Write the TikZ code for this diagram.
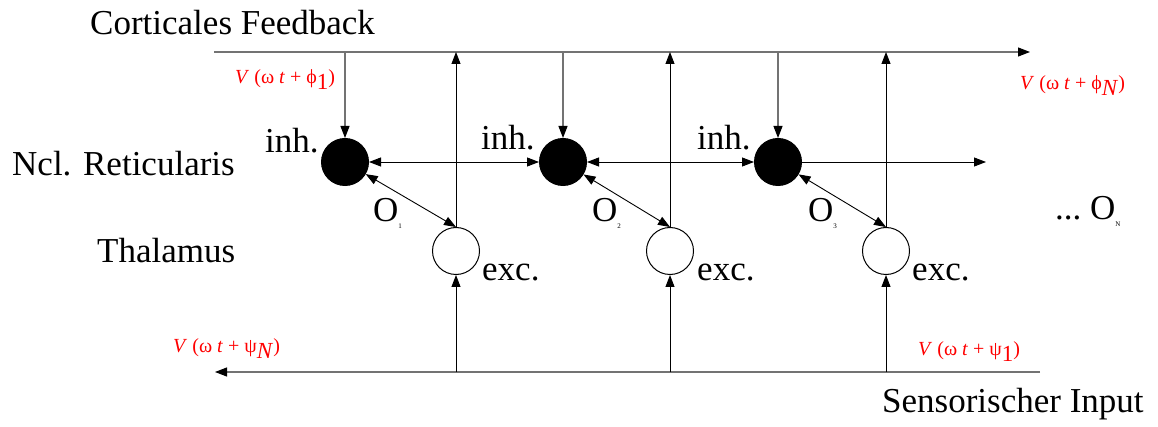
\documentclass[tikz,border=0pt]{standalone}
\usepackage{fontspec}
\setmainfont{Liberation Serif}
\usetikzlibrary{arrows.meta}
\begin{document}
\begin{tikzpicture}[x=1pt,y=-1pt,
  big/.style={inner sep=0pt,anchor=base west,font=\fontsize{35}{40}\selectfont},
  phase/.style={inner sep=0pt,anchor=base west,text=red,font=\fontsize{20}{24}\selectfont},
  inhcell/.style={circle,fill=black,draw=black,line width=1pt,minimum size=47pt,inner sep=0pt},
  exccell/.style={circle,fill=white,draw=black,line width=1pt,minimum size=47pt,inner sep=0pt},
  wire/.style={line width=1.1pt,draw=black!55},
  link/.style={line width=0.9pt,draw=black},
  tip/.style={-{Triangle[length=12pt,width=9pt,color=black]}},
  tips/.style={{Triangle[length=12pt,width=9pt,color=black]}-{Triangle[length=12pt,width=9pt,color=black]}}
]
\useasboundingbox (0,0) rectangle (1158,427);

% ends of the feedback and input lines
\coordinate (fbL) at (214,52);
\coordinate (fbR) at (1030,52);
\coordinate (inR) at (1040,372);
\coordinate (inL) at (215,372);
\coordinate (retR) at (986,162);

% cells
\node[inhcell] (inh1) at (345,162) {};
\node[inhcell] (inh2) at (563,162) {};
\node[inhcell] (inh3) at (778,162) {};
\node[exccell] (exc1) at (456,251) {};
\node[exccell] (exc2) at (670,251) {};
\node[exccell] (exc3) at (886,251) {};

% cortical feedback line
\draw[wire,tip] (fbL) -- (fbR);
% sensory input line
\draw[wire,tip] (inR) -- (inL);

\foreach \i in {1,2,3}{
  % feedback down to the reticular cells
  \draw[wire,tip] (inh\i.north |- fbL) -- (inh\i.north);
  % thalamic cells up to the cortex
  \draw[link,tip] (exc\i.north) -- (exc\i.north |- fbL);
  % sensory input up to the thalamic cells
  \draw[link,tip] (exc\i.south |- inL) -- (exc\i.south);
  % reciprocal reticular-thalamic coupling
  \draw[link,tips] (inh\i) -- (exc\i.north);
}
% lateral coupling along the reticular nucleus
\draw[link,tips] (inh1) -- (inh2);
\draw[link,tips] (inh2) -- (inh3);
\draw[link,tip] (inh3) -- (retR);

% region labels
\node[big] (lfb) at (90,35) {Corticales Feedback};
\node[big] (lret) at (12,176) {Ncl. Reticularis};
\node[big] (lthal) at (97,263) {Thalamus};
\node[big] (lin) at (882,412) {Sensorischer Input};

% cell labels
\node[big] (li1) at (265,153) {inh.};
\node[big] (li2) at (481,150) {inh.};
\node[big] (li3) at (697,150) {inh.};
\node[big] (le1) at (482,281) {exc.};
\node[big] (le2) at (697,281) {exc.};
\node[big] (le3) at (912,281) {exc.};

% oscillator labels
\node[big] (o1) at (373,222) {O\raisebox{-0.2em}{\fontsize{7}{8}\selectfont 1}};
\node[big] (o2) at (592,222) {O\raisebox{-0.2em}{\fontsize{7}{8}\selectfont 2}};
\node[big] (o3) at (808,222) {O\raisebox{-0.2em}{\fontsize{7}{8}\selectfont 3}};
\node[big] (oN) at (1055,220) {...~O\raisebox{-0.2em}{\fontsize{7}{8}\selectfont N}};

% phase labels
\newcommand{\phs}[2]{\textit{V} (ω \textit{t} + #1\raisebox{-0.3em}{\fontsize{23}{24}\selectfont #2})}
\node[phase] (p1) at (235,84) {\phs{ϕ}{1}};
\node[phase] (pN) at (1020,90) {\phs{ϕ}{\textit{N}}};
\node[phase] (qN) at (173,352) {\phs{ψ}{\textit{N}}};
\node[phase] (q1) at (918,355) {\phs{ψ}{1}};
\end{tikzpicture}
\end{document}
